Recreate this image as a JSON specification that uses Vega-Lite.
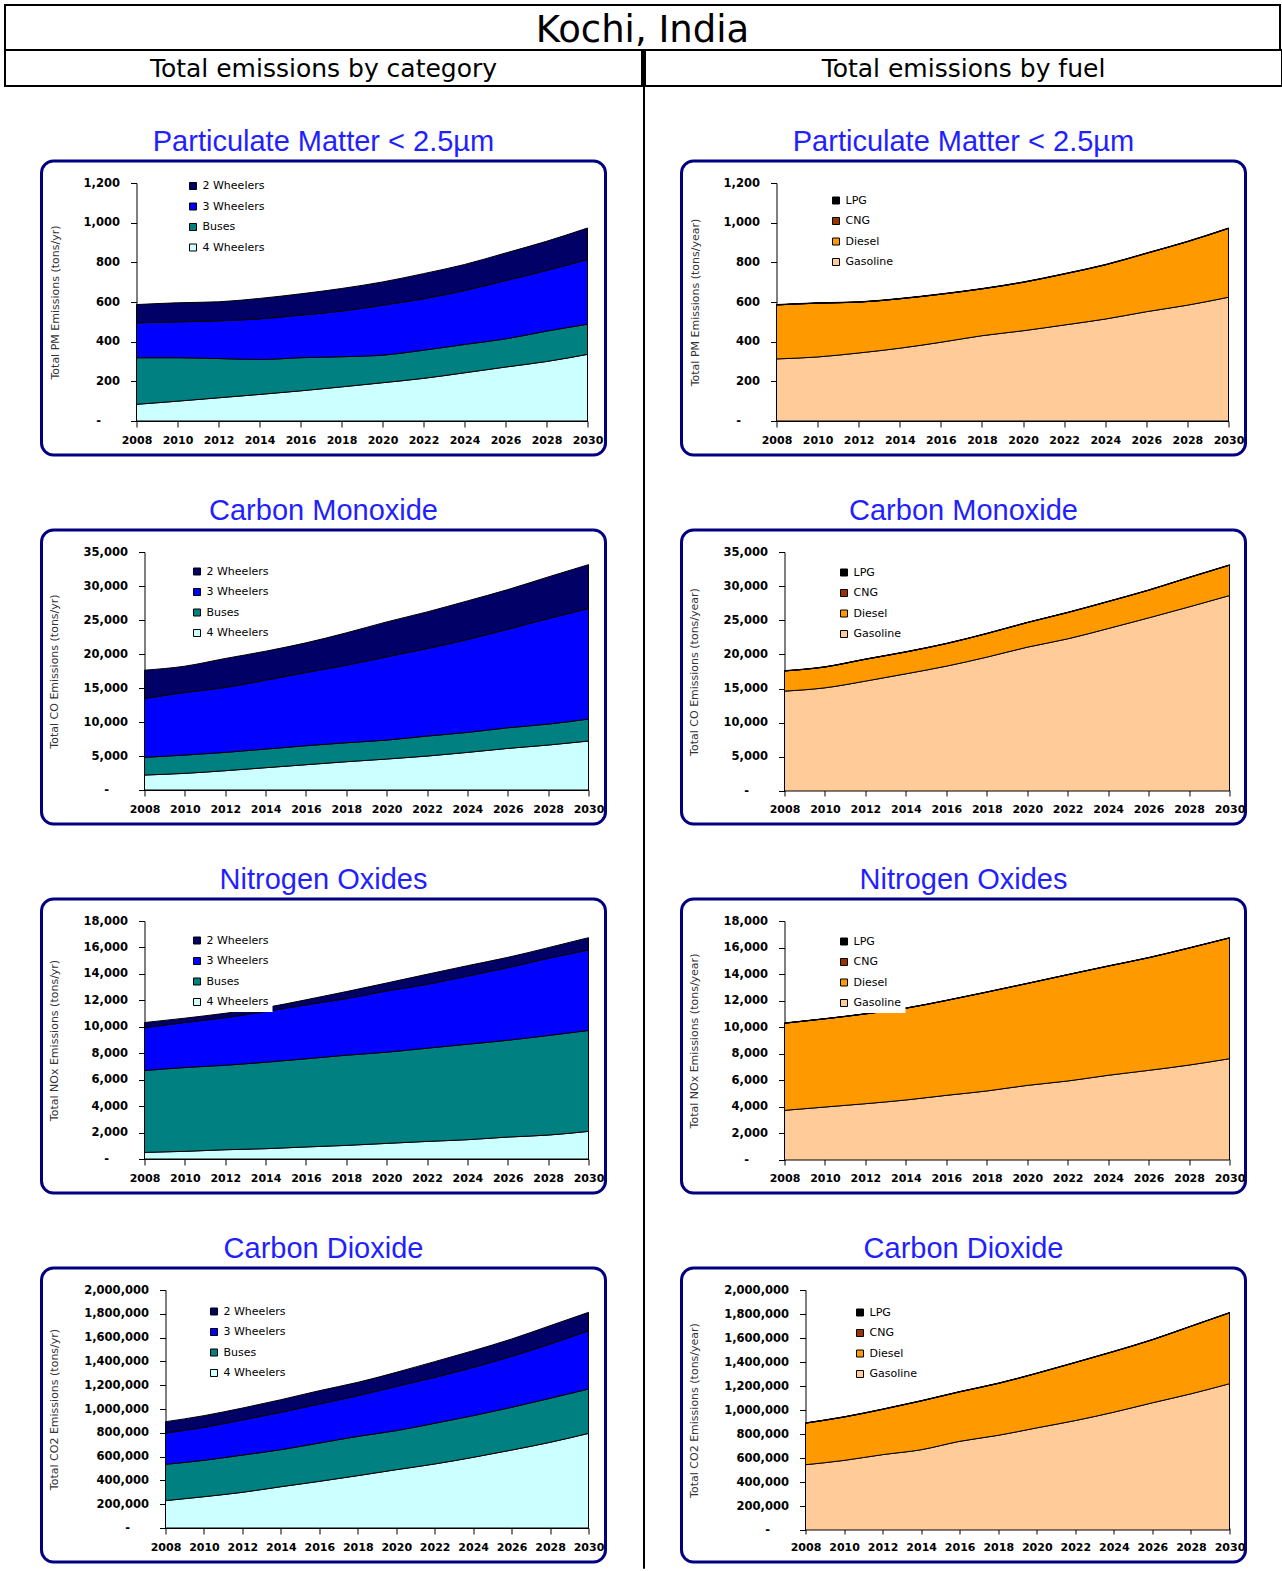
{
  "$schema": "https://vega.github.io/schema/vega-lite/v6.json",
  "padding": {"left": 4, "top": 4, "right": 1, "bottom": 1},
  "background": "white",
  "bounds": "flush",
  "spacing": 0,
  "resolve": {"scale": {"color": "independent"}},
  "config": {
    "view": {"stroke": "#000080", "strokeWidth": 3, "cornerRadius": 12, "fill": "white"},
    "title": {"font": "Liberation Sans", "fontSize": 29, "fontWeight": "normal", "color": "#1f1fff", "anchor": "middle", "offset": 4},
    "axis": {"domainColor": "black", "domainWidth": 1, "tickColor": "black", "tickSize": 6, "labelFont": "DejaVu Sans", "labelFontWeight": "bold", "labelColor": "black", "titleFont": "DejaVu Sans", "titleFontWeight": "normal", "titleFontSize": 11, "titleColor": "#333333", "grid": false},
    "axisX": {"labelFontSize": 11, "labelPadding": 7, "labelFlush": false, "labelOverlap": false},
    "axisY": {"labelFontSize": 11.5, "labelPadding": {"condition": {"test": "datum.value === 0", "value": 30}, "value": 11}, "titleBaseline": "middle"},
    "legend": {"fillColor": "white", "padding": 4, "symbolType": "square", "symbolSize": 49, "symbolStrokeColor": "black", "symbolStrokeWidth": 1, "symbolOpacity": 1, "labelFont": "DejaVu Sans", "labelFontSize": 11, "labelColor": "black", "rowPadding": 8.5, "labelOffset": 4}
  },
  "datasets": {
    "pm_cat": [
      {"year":2008,"s":"4 Wheelers","v":84},{"year":2008,"s":"Buses","v":235},{"year":2008,"s":"3 Wheelers","v":176},{"year":2008,"s":"2 Wheelers","v":92},
      {"year":2010,"s":"4 Wheelers","v":100},{"year":2010,"s":"Buses","v":219},{"year":2010,"s":"3 Wheelers","v":181},{"year":2010,"s":"2 Wheelers","v":96},
      {"year":2012,"s":"4 Wheelers","v":117},{"year":2012,"s":"Buses","v":198},{"year":2012,"s":"3 Wheelers","v":190},{"year":2012,"s":"2 Wheelers","v":96},
      {"year":2014,"s":"4 Wheelers","v":134},{"year":2014,"s":"Buses","v":176},{"year":2014,"s":"3 Wheelers","v":205},{"year":2014,"s":"2 Wheelers","v":103},
      {"year":2016,"s":"4 Wheelers","v":152},{"year":2016,"s":"Buses","v":167},{"year":2016,"s":"3 Wheelers","v":215},{"year":2016,"s":"2 Wheelers","v":107},
      {"year":2018,"s":"4 Wheelers","v":172},{"year":2018,"s":"Buses","v":152},{"year":2018,"s":"3 Wheelers","v":230},{"year":2018,"s":"2 Wheelers","v":114},
      {"year":2020,"s":"4 Wheelers","v":193},{"year":2020,"s":"Buses","v":139},{"year":2020,"s":"3 Wheelers","v":252},{"year":2020,"s":"2 Wheelers","v":117},
      {"year":2022,"s":"4 Wheelers","v":215},{"year":2022,"s":"Buses","v":142},{"year":2022,"s":"3 Wheelers","v":259},{"year":2022,"s":"2 Wheelers","v":127},
      {"year":2024,"s":"4 Wheelers","v":243},{"year":2024,"s":"Buses","v":143},{"year":2024,"s":"3 Wheelers","v":272},{"year":2024,"s":"2 Wheelers","v":131},
      {"year":2026,"s":"4 Wheelers","v":272},{"year":2026,"s":"Buses","v":142},{"year":2026,"s":"3 Wheelers","v":294},{"year":2026,"s":"2 Wheelers","v":139},
      {"year":2028,"s":"4 Wheelers","v":300},{"year":2028,"s":"Buses","v":153},{"year":2028,"s":"3 Wheelers","v":306},{"year":2028,"s":"2 Wheelers","v":147},
      {"year":2030,"s":"4 Wheelers","v":336},{"year":2030,"s":"Buses","v":152},{"year":2030,"s":"3 Wheelers","v":326},{"year":2030,"s":"2 Wheelers","v":159}
    ],
    "pm_fuel": [
      {"year":2008,"s":"Gasoline","v":313},{"year":2008,"s":"Diesel","v":272},{"year":2008,"s":"CNG","v":0.5},{"year":2008,"s":"LPG","v":1.5},
      {"year":2010,"s":"Gasoline","v":323},{"year":2010,"s":"Diesel","v":271},{"year":2010,"s":"CNG","v":0.5},{"year":2010,"s":"LPG","v":1.5},
      {"year":2012,"s":"Gasoline","v":343},{"year":2012,"s":"Diesel","v":256},{"year":2012,"s":"CNG","v":0.5},{"year":2012,"s":"LPG","v":1.5},
      {"year":2014,"s":"Gasoline","v":367},{"year":2014,"s":"Diesel","v":249},{"year":2014,"s":"CNG","v":0.5},{"year":2014,"s":"LPG","v":1.5},
      {"year":2016,"s":"Gasoline","v":397},{"year":2016,"s":"Diesel","v":242},{"year":2016,"s":"CNG","v":0.5},{"year":2016,"s":"LPG","v":1.5},
      {"year":2018,"s":"Gasoline","v":430},{"year":2018,"s":"Diesel","v":236},{"year":2018,"s":"CNG","v":0.5},{"year":2018,"s":"LPG","v":1.5},
      {"year":2020,"s":"Gasoline","v":455},{"year":2020,"s":"Diesel","v":244},{"year":2020,"s":"CNG","v":0.5},{"year":2020,"s":"LPG","v":1.5},
      {"year":2022,"s":"Gasoline","v":484},{"year":2022,"s":"Diesel","v":257},{"year":2022,"s":"CNG","v":0.5},{"year":2022,"s":"LPG","v":1.5},
      {"year":2024,"s":"Gasoline","v":514},{"year":2024,"s":"Diesel","v":273},{"year":2024,"s":"CNG","v":0.5},{"year":2024,"s":"LPG","v":1.5},
      {"year":2026,"s":"Gasoline","v":551},{"year":2026,"s":"Diesel","v":294},{"year":2026,"s":"CNG","v":0.5},{"year":2026,"s":"LPG","v":1.5},
      {"year":2028,"s":"Gasoline","v":584},{"year":2028,"s":"Diesel","v":320},{"year":2028,"s":"CNG","v":0.5},{"year":2028,"s":"LPG","v":1.5},
      {"year":2030,"s":"Gasoline","v":624},{"year":2030,"s":"Diesel","v":347},{"year":2030,"s":"CNG","v":0.5},{"year":2030,"s":"LPG","v":1.5}
    ],
    "co_cat": [
      {"year":2008,"s":"4 Wheelers","v":2200},{"year":2008,"s":"Buses","v":2600},{"year":2008,"s":"3 Wheelers","v":8660},{"year":2008,"s":"2 Wheelers","v":4160},
      {"year":2010,"s":"4 Wheelers","v":2450},{"year":2010,"s":"Buses","v":2690},{"year":2010,"s":"3 Wheelers","v":9200},{"year":2010,"s":"2 Wheelers","v":3870},
      {"year":2012,"s":"4 Wheelers","v":2840},{"year":2012,"s":"Buses","v":2690},{"year":2012,"s":"3 Wheelers","v":9550},{"year":2012,"s":"2 Wheelers","v":4260},
      {"year":2014,"s":"4 Wheelers","v":3280},{"year":2014,"s":"Buses","v":2740},{"year":2014,"s":"3 Wheelers","v":10130},{"year":2014,"s":"2 Wheelers","v":4260},
      {"year":2016,"s":"4 Wheelers","v":3720},{"year":2016,"s":"Buses","v":2790},{"year":2016,"s":"3 Wheelers","v":10770},{"year":2016,"s":"2 Wheelers","v":4360},
      {"year":2018,"s":"4 Wheelers","v":4160},{"year":2018,"s":"Buses","v":2790},{"year":2018,"s":"3 Wheelers","v":11410},{"year":2018,"s":"2 Wheelers","v":4750},
      {"year":2020,"s":"4 Wheelers","v":4550},{"year":2020,"s":"Buses","v":2790},{"year":2020,"s":"3 Wheelers","v":12240},{"year":2020,"s":"2 Wheelers","v":5140},
      {"year":2022,"s":"4 Wheelers","v":4990},{"year":2022,"s":"Buses","v":2940},{"year":2022,"s":"3 Wheelers","v":12870},{"year":2022,"s":"2 Wheelers","v":5390},
      {"year":2024,"s":"4 Wheelers","v":5530},{"year":2024,"s":"Buses","v":2940},{"year":2024,"s":"3 Wheelers","v":13660},{"year":2024,"s":"2 Wheelers","v":5680},
      {"year":2026,"s":"4 Wheelers","v":6120},{"year":2026,"s":"Buses","v":3030},{"year":2026,"s":"3 Wheelers","v":14490},{"year":2026,"s":"2 Wheelers","v":5830},
      {"year":2028,"s":"4 Wheelers","v":6610},{"year":2028,"s":"Buses","v":3080},{"year":2028,"s":"3 Wheelers","v":15520},{"year":2028,"s":"2 Wheelers","v":6120},
      {"year":2030,"s":"4 Wheelers","v":7200},{"year":2030,"s":"Buses","v":3230},{"year":2030,"s":"3 Wheelers","v":16250},{"year":2030,"s":"2 Wheelers","v":6460}
    ],
    "co_fuel": [
      {"year":2008,"s":"Gasoline","v":14630},{"year":2008,"s":"Diesel","v":2950},{"year":2008,"s":"CNG","v":5},{"year":2008,"s":"LPG","v":40},
      {"year":2010,"s":"Gasoline","v":15110},{"year":2010,"s":"Diesel","v":3050},{"year":2010,"s":"CNG","v":5},{"year":2010,"s":"LPG","v":40},
      {"year":2012,"s":"Gasoline","v":16090},{"year":2012,"s":"Diesel","v":3200},{"year":2012,"s":"CNG","v":5},{"year":2012,"s":"LPG","v":40},
      {"year":2014,"s":"Gasoline","v":17160},{"year":2014,"s":"Diesel","v":3200},{"year":2014,"s":"CNG","v":5},{"year":2014,"s":"LPG","v":40},
      {"year":2016,"s":"Gasoline","v":18280},{"year":2016,"s":"Diesel","v":3300},{"year":2016,"s":"CNG","v":5},{"year":2016,"s":"LPG","v":40},
      {"year":2018,"s":"Gasoline","v":19600},{"year":2018,"s":"Diesel","v":3450},{"year":2018,"s":"CNG","v":5},{"year":2018,"s":"LPG","v":40},
      {"year":2020,"s":"Gasoline","v":21060},{"year":2020,"s":"Diesel","v":3600},{"year":2020,"s":"CNG","v":5},{"year":2020,"s":"LPG","v":40},
      {"year":2022,"s":"Gasoline","v":22280},{"year":2022,"s":"Diesel","v":3850},{"year":2022,"s":"CNG","v":5},{"year":2022,"s":"LPG","v":40},
      {"year":2024,"s":"Gasoline","v":23790},{"year":2024,"s":"Diesel","v":3950},{"year":2024,"s":"CNG","v":5},{"year":2024,"s":"LPG","v":40},
      {"year":2026,"s":"Gasoline","v":25350},{"year":2026,"s":"Diesel","v":4050},{"year":2026,"s":"CNG","v":5},{"year":2026,"s":"LPG","v":40},
      {"year":2028,"s":"Gasoline","v":26960},{"year":2028,"s":"Diesel","v":4300},{"year":2028,"s":"CNG","v":5},{"year":2028,"s":"LPG","v":40},
      {"year":2030,"s":"Gasoline","v":28620},{"year":2030,"s":"Diesel","v":4450},{"year":2030,"s":"CNG","v":5},{"year":2030,"s":"LPG","v":40}
    ],
    "nox_cat": [
      {"year":2008,"s":"4 Wheelers","v":500},{"year":2008,"s":"Buses","v":6190},{"year":2008,"s":"3 Wheelers","v":3250},{"year":2008,"s":"2 Wheelers","v":380},
      {"year":2010,"s":"4 Wheelers","v":580},{"year":2010,"s":"Buses","v":6340},{"year":2010,"s":"3 Wheelers","v":3400},{"year":2010,"s":"2 Wheelers","v":330},
      {"year":2012,"s":"4 Wheelers","v":700},{"year":2012,"s":"Buses","v":6390},{"year":2012,"s":"3 Wheelers","v":3600},{"year":2012,"s":"2 Wheelers","v":330},
      {"year":2014,"s":"4 Wheelers","v":780},{"year":2014,"s":"Buses","v":6540},{"year":2014,"s":"3 Wheelers","v":3830},{"year":2014,"s":"2 Wheelers","v":300},
      {"year":2016,"s":"4 Wheelers","v":910},{"year":2016,"s":"Buses","v":6670},{"year":2016,"s":"3 Wheelers","v":4080},{"year":2016,"s":"2 Wheelers","v":380},
      {"year":2018,"s":"4 Wheelers","v":1030},{"year":2018,"s":"Buses","v":6820},{"year":2018,"s":"3 Wheelers","v":4280},{"year":2018,"s":"2 Wheelers","v":530},
      {"year":2020,"s":"4 Wheelers","v":1180},{"year":2020,"s":"Buses","v":6900},{"year":2020,"s":"3 Wheelers","v":4630},{"year":2020,"s":"2 Wheelers","v":600},
      {"year":2022,"s":"4 Wheelers","v":1330},{"year":2022,"s":"Buses","v":7050},{"year":2022,"s":"3 Wheelers","v":4830},{"year":2022,"s":"2 Wheelers","v":760},
      {"year":2024,"s":"4 Wheelers","v":1460},{"year":2024,"s":"Buses","v":7220},{"year":2024,"s":"3 Wheelers","v":5160},{"year":2024,"s":"2 Wheelers","v":780},
      {"year":2026,"s":"4 Wheelers","v":1660},{"year":2026,"s":"Buses","v":7320},{"year":2026,"s":"3 Wheelers","v":5490},{"year":2026,"s":"2 Wheelers","v":780},
      {"year":2028,"s":"4 Wheelers","v":1810},{"year":2028,"s":"Buses","v":7530},{"year":2028,"s":"3 Wheelers","v":5840},{"year":2028,"s":"2 Wheelers","v":800},
      {"year":2030,"s":"4 Wheelers","v":2090},{"year":2030,"s":"Buses","v":7630},{"year":2030,"s":"3 Wheelers","v":6090},{"year":2030,"s":"2 Wheelers","v":930}
    ],
    "nox_fuel": [
      {"year":2008,"s":"Gasoline","v":3740},{"year":2008,"s":"Diesel","v":6560},{"year":2008,"s":"CNG","v":5},{"year":2008,"s":"LPG","v":15},
      {"year":2010,"s":"Gasoline","v":3990},{"year":2010,"s":"Diesel","v":6640},{"year":2010,"s":"CNG","v":5},{"year":2010,"s":"LPG","v":15},
      {"year":2012,"s":"Gasoline","v":4240},{"year":2012,"s":"Diesel","v":6760},{"year":2012,"s":"CNG","v":5},{"year":2012,"s":"LPG","v":15},
      {"year":2014,"s":"Gasoline","v":4520},{"year":2014,"s":"Diesel","v":6910},{"year":2014,"s":"CNG","v":5},{"year":2014,"s":"LPG","v":15},
      {"year":2016,"s":"Gasoline","v":4870},{"year":2016,"s":"Diesel","v":7140},{"year":2016,"s":"CNG","v":5},{"year":2016,"s":"LPG","v":15},
      {"year":2018,"s":"Gasoline","v":5200},{"year":2018,"s":"Diesel","v":7440},{"year":2018,"s":"CNG","v":5},{"year":2018,"s":"LPG","v":15},
      {"year":2020,"s":"Gasoline","v":5620},{"year":2020,"s":"Diesel","v":7670},{"year":2020,"s":"CNG","v":5},{"year":2020,"s":"LPG","v":15},
      {"year":2022,"s":"Gasoline","v":5950},{"year":2022,"s":"Diesel","v":8000},{"year":2022,"s":"CNG","v":5},{"year":2022,"s":"LPG","v":15},
      {"year":2024,"s":"Gasoline","v":6380},{"year":2024,"s":"Diesel","v":8220},{"year":2024,"s":"CNG","v":5},{"year":2024,"s":"LPG","v":15},
      {"year":2026,"s":"Gasoline","v":6750},{"year":2026,"s":"Diesel","v":8480},{"year":2026,"s":"CNG","v":5},{"year":2026,"s":"LPG","v":15},
      {"year":2028,"s":"Gasoline","v":7150},{"year":2028,"s":"Diesel","v":8810},{"year":2028,"s":"CNG","v":5},{"year":2028,"s":"LPG","v":15},
      {"year":2030,"s":"Gasoline","v":7630},{"year":2030,"s":"Diesel","v":9090},{"year":2030,"s":"CNG","v":5},{"year":2030,"s":"LPG","v":15}
    ],
    "co2_cat": [
      {"year":2008,"s":"4 Wheelers","v":230000},{"year":2008,"s":"Buses","v":305000},{"year":2008,"s":"3 Wheelers","v":263000},{"year":2008,"s":"2 Wheelers","v":95000},
      {"year":2010,"s":"4 Wheelers","v":263000},{"year":2010,"s":"Buses","v":306000},{"year":2010,"s":"3 Wheelers","v":277000},{"year":2010,"s":"2 Wheelers","v":98000},
      {"year":2012,"s":"4 Wheelers","v":300000},{"year":2012,"s":"Buses","v":313000},{"year":2012,"s":"3 Wheelers","v":295000},{"year":2012,"s":"2 Wheelers","v":100000},
      {"year":2014,"s":"4 Wheelers","v":347000},{"year":2014,"s":"Buses","v":311000},{"year":2014,"s":"3 Wheelers","v":314000},{"year":2014,"s":"2 Wheelers","v":106000},
      {"year":2016,"s":"4 Wheelers","v":392000},{"year":2016,"s":"Buses","v":322000},{"year":2016,"s":"3 Wheelers","v":328000},{"year":2016,"s":"2 Wheelers","v":112000},
      {"year":2018,"s":"4 Wheelers","v":440000},{"year":2018,"s":"Buses","v":330000},{"year":2018,"s":"3 Wheelers","v":342000},{"year":2018,"s":"2 Wheelers","v":112000},
      {"year":2020,"s":"4 Wheelers","v":490000},{"year":2020,"s":"Buses","v":328000},{"year":2020,"s":"3 Wheelers","v":372000},{"year":2020,"s":"2 Wheelers","v":118000},
      {"year":2022,"s":"4 Wheelers","v":538000},{"year":2022,"s":"Buses","v":342000},{"year":2022,"s":"3 Wheelers","v":386000},{"year":2022,"s":"2 Wheelers","v":132000},
      {"year":2024,"s":"4 Wheelers","v":594000},{"year":2024,"s":"Buses","v":350000},{"year":2024,"s":"3 Wheelers","v":406000},{"year":2024,"s":"2 Wheelers","v":140000},
      {"year":2026,"s":"4 Wheelers","v":655000},{"year":2026,"s":"Buses","v":359000},{"year":2026,"s":"3 Wheelers","v":429000},{"year":2026,"s":"2 Wheelers","v":145000},
      {"year":2028,"s":"4 Wheelers","v":720000},{"year":2028,"s":"Buses","v":370000},{"year":2028,"s":"3 Wheelers","v":456000},{"year":2028,"s":"2 Wheelers","v":154000},
      {"year":2030,"s":"4 Wheelers","v":795000},{"year":2030,"s":"Buses","v":373000},{"year":2030,"s":"3 Wheelers","v":490000},{"year":2030,"s":"2 Wheelers","v":154000}
    ],
    "co2_fuel": [
      {"year":2008,"s":"Gasoline","v":544000},{"year":2008,"s":"Diesel","v":346000},{"year":2008,"s":"CNG","v":1000},{"year":2008,"s":"LPG","v":2000},
      {"year":2010,"s":"Gasoline","v":580000},{"year":2010,"s":"Diesel","v":361000},{"year":2010,"s":"CNG","v":1000},{"year":2010,"s":"LPG","v":2000},
      {"year":2012,"s":"Gasoline","v":628000},{"year":2012,"s":"Diesel","v":377000},{"year":2012,"s":"CNG","v":1000},{"year":2012,"s":"LPG","v":2000},
      {"year":2014,"s":"Gasoline","v":669000},{"year":2014,"s":"Diesel","v":406000},{"year":2014,"s":"CNG","v":1000},{"year":2014,"s":"LPG","v":2000},
      {"year":2016,"s":"Gasoline","v":739000},{"year":2016,"s":"Diesel","v":412000},{"year":2016,"s":"CNG","v":1000},{"year":2016,"s":"LPG","v":2000},
      {"year":2018,"s":"Gasoline","v":789000},{"year":2018,"s":"Diesel","v":432000},{"year":2018,"s":"CNG","v":1000},{"year":2018,"s":"LPG","v":2000},
      {"year":2020,"s":"Gasoline","v":851000},{"year":2020,"s":"Diesel","v":454000},{"year":2020,"s":"CNG","v":1000},{"year":2020,"s":"LPG","v":2000},
      {"year":2022,"s":"Gasoline","v":912000},{"year":2022,"s":"Diesel","v":483000},{"year":2022,"s":"CNG","v":1000},{"year":2022,"s":"LPG","v":2000},
      {"year":2024,"s":"Gasoline","v":982000},{"year":2024,"s":"Diesel","v":505000},{"year":2024,"s":"CNG","v":1000},{"year":2024,"s":"LPG","v":2000},
      {"year":2026,"s":"Gasoline","v":1060000},{"year":2026,"s":"Diesel","v":525000},{"year":2026,"s":"CNG","v":1000},{"year":2026,"s":"LPG","v":2000},
      {"year":2028,"s":"Gasoline","v":1135000},{"year":2028,"s":"Diesel","v":562000},{"year":2028,"s":"CNG","v":1000},{"year":2028,"s":"LPG","v":2000},
      {"year":2030,"s":"Gasoline","v":1219000},{"year":2030,"s":"Diesel","v":590000},{"year":2030,"s":"CNG","v":1000},{"year":2030,"s":"LPG","v":2000}
    ],
    "hdr": [{"t": "Kochi, India"}],
    "subl": [{"t": "Total emissions by category"}],
    "subr": [{"t": "Total emissions by fuel"}],
    "blank": [{"t": ""}]
  },
  "vconcat": [
    {
      "width": 1275, "height": 45,
      "view": {"stroke": "black", "strokeWidth": 2, "cornerRadius": 0},
      "data": {"name": "hdr"},
      "mark": {"type": "text", "align": "center", "baseline": "middle", "font": "DejaVu Sans", "fontSize": 37, "color": "black"},
      "encoding": {
        "text": {"field": "t"},
        "x": {"datum": 1, "type": "quantitative", "scale": {"domain": [0, 2]}, "axis": null},
        "y": {"datum": 0.85, "type": "quantitative", "scale": {"domain": [0, 2]}, "axis": null}
      }
    },
    {
      "hconcat": [
        {
          "vconcat": [
            {
              "width": 637, "height": 36,
              "view": {"stroke": "black", "strokeWidth": 2, "cornerRadius": 0},
              "data": {"name": "subl"},
              "mark": {"type": "text", "align": "center", "baseline": "middle", "font": "DejaVu Sans", "fontSize": 25, "color": "black"},
              "encoding": {
                "text": {"field": "t"},
                "x": {"datum": 1, "type": "quantitative", "scale": {"domain": [0, 2]}, "axis": null},
                "y": {"datum": 0.95, "type": "quantitative", "scale": {"domain": [0, 2]}, "axis": null}
              }
            },
            {
              "width": 564, "height": 294,
              "title": "Particulate Matter < 2.5µm",
              "data": {"name": "pm_cat"},
              "transform": [{"window": [{"op": "row_number", "as": "k"}], "groupby": ["year"]}],
              "mark": {"type": "area", "interpolate": "monotone", "stroke": "black", "strokeWidth": 1},
              "encoding": {
                "x": {"field": "year", "type": "quantitative", "scale": {"domain": [2008, 2030], "range": [95, 546], "nice": false, "zero": false}, "axis": {"values": [2008,2010,2012,2014,2016,2018,2020,2022,2024,2026,2028,2030], "format": "d", "offset": -34, "title": null}},
                "y": {"field": "v", "type": "quantitative", "stack": "zero", "scale": {"domain": [0, 1200], "range": [260, 22], "nice": false}, "axis": {"values": [0,200,400,600,800,1000,1200], "labelExpr": "datum.value === 0 ? '-' : format(datum.value, ',')", "offset": -95, "title": "Total PM Emissions (tons/yr)", "titleX": -81}},
                "color": {"field": "s", "type": "nominal", "scale": {"domain": ["2 Wheelers","3 Wheelers","Buses","4 Wheelers"], "range": ["#000066","#0000ff","#008080","#ccffff"]}, "legend": {"title": null, "orient": "none", "legendX": 142, "legendY": 15.5}},
                "order": {"field": "k", "type": "quantitative"}
              }
            },
            {
              "width": 564, "height": 294,
              "title": "Carbon Monoxide",
              "data": {"name": "co_cat"},
              "transform": [{"window": [{"op": "row_number", "as": "k"}], "groupby": ["year"]}],
              "mark": {"type": "area", "interpolate": "monotone", "stroke": "black", "strokeWidth": 1},
              "encoding": {
                "x": {"field": "year", "type": "quantitative", "scale": {"domain": [2008, 2030], "range": [103, 547], "nice": false, "zero": false}, "axis": {"values": [2008,2010,2012,2014,2016,2018,2020,2022,2024,2026,2028,2030], "format": "d", "offset": -34, "title": null}},
                "y": {"field": "v", "type": "quantitative", "stack": "zero", "scale": {"domain": [0, 35000], "range": [260, 22], "nice": false}, "axis": {"values": [0,5000,10000,15000,20000,25000,30000,35000], "labelExpr": "datum.value === 0 ? '-' : format(datum.value, ',')", "offset": -103, "title": "Total CO Emissions (tons/yr)", "titleX": -90}},
                "color": {"field": "s", "type": "nominal", "scale": {"domain": ["2 Wheelers","3 Wheelers","Buses","4 Wheelers"], "range": ["#000066","#0000ff","#008080","#ccffff"]}, "legend": {"title": null, "orient": "none", "legendX": 146, "legendY": 32}},
                "order": {"field": "k", "type": "quantitative"}
              }
            },
            {
              "width": 564, "height": 294,
              "title": "Nitrogen Oxides",
              "data": {"name": "nox_cat"},
              "transform": [{"window": [{"op": "row_number", "as": "k"}], "groupby": ["year"]}],
              "mark": {"type": "area", "interpolate": "monotone", "stroke": "black", "strokeWidth": 1},
              "encoding": {
                "x": {"field": "year", "type": "quantitative", "scale": {"domain": [2008, 2030], "range": [103, 547], "nice": false, "zero": false}, "axis": {"values": [2008,2010,2012,2014,2016,2018,2020,2022,2024,2026,2028,2030], "format": "d", "offset": -34, "title": null}},
                "y": {"field": "v", "type": "quantitative", "stack": "zero", "scale": {"domain": [0, 18000], "range": [260, 22], "nice": false}, "axis": {"values": [0,2000,4000,6000,8000,10000,12000,14000,16000,18000], "labelExpr": "datum.value === 0 ? '-' : format(datum.value, ',')", "offset": -103, "title": "Total NOx Emissions (tons/yr)", "titleX": -90}},
                "color": {"field": "s", "type": "nominal", "scale": {"domain": ["2 Wheelers","3 Wheelers","Buses","4 Wheelers"], "range": ["#000066","#0000ff","#008080","#ccffff"]}, "legend": {"title": null, "orient": "none", "legendX": 146, "legendY": 32}},
                "order": {"field": "k", "type": "quantitative"}
              }
            },
            {
              "width": 564, "height": 294,
              "title": "Carbon Dioxide",
              "data": {"name": "co2_cat"},
              "transform": [{"window": [{"op": "row_number", "as": "k"}], "groupby": ["year"]}],
              "mark": {"type": "area", "interpolate": "monotone", "stroke": "black", "strokeWidth": 1},
              "encoding": {
                "x": {"field": "year", "type": "quantitative", "scale": {"domain": [2008, 2030], "range": [124, 547], "nice": false, "zero": false}, "axis": {"values": [2008,2010,2012,2014,2016,2018,2020,2022,2024,2026,2028,2030], "format": "d", "offset": -34, "title": null}},
                "y": {"field": "v", "type": "quantitative", "stack": "zero", "scale": {"domain": [0, 2000000], "range": [260, 22], "nice": false}, "axis": {"values": [0,200000,400000,600000,800000,1000000,1200000,1400000,1600000,1800000,2000000], "labelExpr": "datum.value === 0 ? '-' : format(datum.value, ',')", "offset": -124, "title": "Total CO2 Emissions (tons/yr)", "titleX": -111}},
                "color": {"field": "s", "type": "nominal", "scale": {"domain": ["2 Wheelers","3 Wheelers","Buses","4 Wheelers"], "range": ["#000066","#0000ff","#008080","#ccffff"]}, "legend": {"title": null, "orient": "none", "legendX": 163, "legendY": 34}},
                "order": {"field": "k", "type": "quantitative"}
              }
            }
          ],
          "spacing": 75,
          "center": true,
          "bounds": "flush",
          "resolve": {"scale": {"color": "independent"}}
        },
        {
          "width": 1, "height": 1518,
          "view": {"stroke": "black", "strokeWidth": 1, "cornerRadius": 0},
          "data": {"name": "blank"},
          "mark": {"type": "text"},
          "encoding": {"text": {"field": "t"}}
        },
        {
          "vconcat": [
            {
              "width": 637, "height": 36,
              "view": {"stroke": "black", "strokeWidth": 2, "cornerRadius": 0},
              "data": {"name": "subr"},
              "mark": {"type": "text", "align": "center", "baseline": "middle", "font": "DejaVu Sans", "fontSize": 25, "color": "black"},
              "encoding": {
                "text": {"field": "t"},
                "x": {"datum": 1, "type": "quantitative", "scale": {"domain": [0, 2]}, "axis": null},
                "y": {"datum": 0.95, "type": "quantitative", "scale": {"domain": [0, 2]}, "axis": null}
              }
            },
            {
              "width": 564, "height": 294,
              "title": "Particulate Matter < 2.5µm",
              "data": {"name": "pm_fuel"},
              "transform": [{"window": [{"op": "row_number", "as": "k"}], "groupby": ["year"]}],
              "mark": {"type": "area", "interpolate": "monotone", "stroke": "black", "strokeWidth": 1},
              "encoding": {
                "x": {"field": "year", "type": "quantitative", "scale": {"domain": [2008, 2030], "range": [95, 547], "nice": false, "zero": false}, "axis": {"values": [2008,2010,2012,2014,2016,2018,2020,2022,2024,2026,2028,2030], "format": "d", "offset": -34, "title": null}},
                "y": {"field": "v", "type": "quantitative", "stack": "zero", "scale": {"domain": [0, 1200], "range": [260, 22], "nice": false}, "axis": {"values": [0,200,400,600,800,1000,1200], "labelExpr": "datum.value === 0 ? '-' : format(datum.value, ',')", "offset": -95, "title": "Total PM Emissions (tons/year)", "titleX": -81}},
                "color": {"field": "s", "type": "nominal", "scale": {"domain": ["LPG","CNG","Diesel","Gasoline"], "range": ["#000000","#993300","#ff9900","#ffcc99"]}, "legend": {"title": null, "orient": "none", "legendX": 145, "legendY": 30}},
                "order": {"field": "k", "type": "quantitative"}
              }
            },
            {
              "width": 564, "height": 294,
              "title": "Carbon Monoxide",
              "data": {"name": "co_fuel"},
              "transform": [{"window": [{"op": "row_number", "as": "k"}], "groupby": ["year"]}],
              "mark": {"type": "area", "interpolate": "monotone", "stroke": "black", "strokeWidth": 1},
              "encoding": {
                "x": {"field": "year", "type": "quantitative", "scale": {"domain": [2008, 2030], "range": [103, 548], "nice": false, "zero": false}, "axis": {"values": [2008,2010,2012,2014,2016,2018,2020,2022,2024,2026,2028,2030], "format": "d", "offset": -34, "title": null}},
                "y": {"field": "v", "type": "quantitative", "stack": "zero", "scale": {"domain": [0, 35000], "range": [261, 22], "nice": false}, "axis": {"values": [0,5000,10000,15000,20000,25000,30000,35000], "labelExpr": "datum.value === 0 ? '-' : format(datum.value, ',')", "offset": -103, "title": "Total CO Emissions (tons/year)", "titleX": -90}},
                "color": {"field": "s", "type": "nominal", "scale": {"domain": ["LPG","CNG","Diesel","Gasoline"], "range": ["#000000","#993300","#ff9900","#ffcc99"]}, "legend": {"title": null, "orient": "none", "legendX": 153, "legendY": 33}},
                "order": {"field": "k", "type": "quantitative"}
              }
            },
            {
              "width": 564, "height": 294,
              "title": "Nitrogen Oxides",
              "data": {"name": "nox_fuel"},
              "transform": [{"window": [{"op": "row_number", "as": "k"}], "groupby": ["year"]}],
              "mark": {"type": "area", "interpolate": "monotone", "stroke": "black", "strokeWidth": 1},
              "encoding": {
                "x": {"field": "year", "type": "quantitative", "scale": {"domain": [2008, 2030], "range": [103, 548], "nice": false, "zero": false}, "axis": {"values": [2008,2010,2012,2014,2016,2018,2020,2022,2024,2026,2028,2030], "format": "d", "offset": -34, "title": null}},
                "y": {"field": "v", "type": "quantitative", "stack": "zero", "scale": {"domain": [0, 18000], "range": [261, 22], "nice": false}, "axis": {"values": [0,2000,4000,6000,8000,10000,12000,14000,16000,18000], "labelExpr": "datum.value === 0 ? '-' : format(datum.value, ',')", "offset": -103, "title": "Total NOx Emissions (tons/year)", "titleX": -90}},
                "color": {"field": "s", "type": "nominal", "scale": {"domain": ["LPG","CNG","Diesel","Gasoline"], "range": ["#000000","#993300","#ff9900","#ffcc99"]}, "legend": {"title": null, "orient": "none", "legendX": 153, "legendY": 33}},
                "order": {"field": "k", "type": "quantitative"}
              }
            },
            {
              "width": 564, "height": 294,
              "title": "Carbon Dioxide",
              "data": {"name": "co2_fuel"},
              "transform": [{"window": [{"op": "row_number", "as": "k"}], "groupby": ["year"]}],
              "mark": {"type": "area", "interpolate": "monotone", "stroke": "black", "strokeWidth": 1},
              "encoding": {
                "x": {"field": "year", "type": "quantitative", "scale": {"domain": [2008, 2030], "range": [124, 548], "nice": false, "zero": false}, "axis": {"values": [2008,2010,2012,2014,2016,2018,2020,2022,2024,2026,2028,2030], "format": "d", "offset": -34, "title": null}},
                "y": {"field": "v", "type": "quantitative", "stack": "zero", "scale": {"domain": [0, 2000000], "range": [262, 22], "nice": false}, "axis": {"values": [0,200000,400000,600000,800000,1000000,1200000,1400000,1600000,1800000,2000000], "labelExpr": "datum.value === 0 ? '-' : format(datum.value, ',')", "offset": -124, "title": "Total CO2 Emissions (tons/year)", "titleX": -111}},
                "color": {"field": "s", "type": "nominal", "scale": {"domain": ["LPG","CNG","Diesel","Gasoline"], "range": ["#000000","#993300","#ff9900","#ffcc99"]}, "legend": {"title": null, "orient": "none", "legendX": 169, "legendY": 35}},
                "order": {"field": "k", "type": "quantitative"}
              }
            }
          ],
          "spacing": 75,
          "center": true,
          "bounds": "flush",
          "resolve": {"scale": {"color": "independent"}}
        }
      ],
      "spacing": -2.5,
      "bounds": "full",
      "resolve": {"scale": {"color": "independent"}}
    }
  ]
}
